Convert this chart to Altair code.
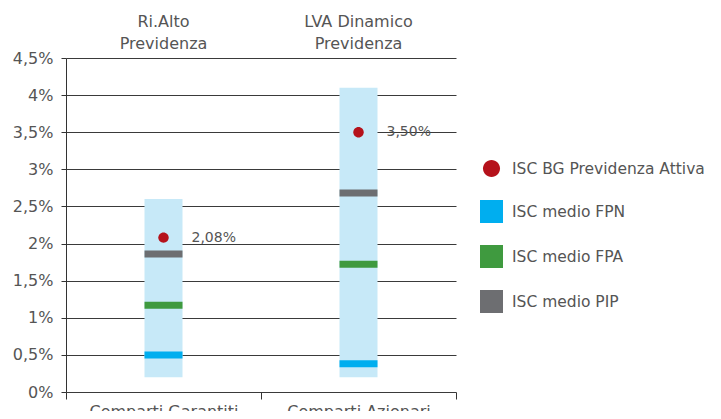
import altair as alt
import pandas as pd

# ---- data ----
categories = ["Comparti Garantiti", "Comparti Azionari"]
fund_names = ["Ri.Alto\nPrevidenza", "LVA Dinamico\nPrevidenza"]
range_min = [0.2, 0.2]
range_max = [2.6, 4.1]
isc_fpn = [0.50, 0.38]
isc_fpa = [1.17, 1.72]
isc_pip = [1.86, 2.68]
isc_bg = [2.08, 3.50]
bg_labels = ["2,08%", "3,50%"]

series = ["ISC BG Previdenza Attiva", "ISC medio FPN", "ISC medio FPA", "ISC medio PIP"]
series_colors = ["#b5121b", "#00aeef", "#3f9a3f", "#6d6e71"]
y_ticks = [0, 0.5, 1, 1.5, 2, 2.5, 3, 3.5, 4, 4.5]

FONT = "DejaVu Sans"
TXT = "#555555"

CIRCLE = "M-0.74,0A0.74,0.74 0 1,0 0.74,0A0.74,0.74 0 1,0 -0.74,0Z"
SQUARE = "M-1,-1H1V1H-1Z"
series_shapes = [CIRCLE, SQUARE, SQUARE, SQUARE]

range_df = pd.DataFrame({"cat": categories, "lo": range_min, "hi": range_max, "fund": fund_names})
tick_rows = []
for name, vals in [(series[1], isc_fpn), (series[2], isc_fpa), (series[3], isc_pip)]:
    for c, v in zip(categories, vals):
        tick_rows.append({"cat": c, "val": v, "serie": name})
tick_df = pd.DataFrame(tick_rows)
bg_df = pd.DataFrame({"cat": categories, "val": isc_bg, "serie": series[0], "label": bg_labels})

x_axis = alt.Axis(
    title=None, tickBand="extent", labelAngle=0, tickSize=7, labelPadding=4,
    domain=False, tickColor="#333333", labelFontSize=16, labelColor=TXT, labelFont=FONT,
    grid=False,
)
x_scale = alt.Scale(paddingInner=0, paddingOuter=0)
y_scale = alt.Scale(domain=[0, 4.5], nice=False)
y_axis = alt.Axis(
    title=None, values=y_ticks, tickSize=5, labelPadding=8, labelOverlap=False,
    labelExpr="replace(format(datum.value, '~g'), '.', ',') + '%'",
    grid=True, gridColor="#3a3a3a", gridWidth=1, domainColor="#333333", tickColor="#333333",
    labelFontSize=16, labelColor=TXT, labelFont=FONT,
)


def X():
    return alt.X("cat:N", sort=categories, scale=x_scale, axis=x_axis)


def Y(field):
    return alt.Y(field, scale=y_scale, axis=y_axis)


color_scale = alt.Scale(domain=series, range=series_colors)
shape_scale = alt.Scale(domain=series, range=series_shapes)
legend = alt.Legend(
    title=None, orient="none", legendX=414, legendY=99, padding=0,
    symbolSize=529, symbolStrokeWidth=0, symbolOpacity=1, rowPadding=22,
    labelFontSize=15.5, labelColor=TXT, labelFont=FONT, labelOffset=9, labelLimit=400,
)

bars = alt.Chart(range_df).mark_bar(color="#c7e9f8", width=38).encode(
    x=X(), y=Y("lo:Q"), y2="hi:Q",
)

titles = alt.Chart(range_df).mark_text(
    fontSize=16, font=FONT, color=TXT, lineBreak="\n", lineHeight=22, baseline="middle"
).encode(x=X(), y=alt.value(-36), text="fund:N")

ticks = alt.Chart(tick_df).mark_tick(thickness=7, size=38, opacity=1).encode(
    x=X(), y=Y("val:Q"),
    color=alt.Color("serie:N", scale=color_scale, legend=legend),
)

dots = alt.Chart(bg_df).mark_point(filled=True, size=200, opacity=1).encode(
    x=X(), y=Y("val:Q"),
    color=alt.Color("serie:N", scale=color_scale, legend=legend),
    shape=alt.Shape("serie:N", scale=shape_scale, legend=legend),
)

dot_labels = alt.Chart(bg_df).mark_text(
    align="left", baseline="middle", dx=28, fontSize=14, font=FONT, color=TXT
).encode(x=X(), y=Y("val:Q"), text="label:N")

chart = alt.layer(bars, ticks, dots, dot_labels, titles).properties(
    width=390, height=334,
    autosize=alt.AutoSizeParams(type="none"),
    padding={"left": 58, "top": 50, "right": 257, "bottom": 19},
    background="white",
).configure_view(stroke=None, strokeWidth=0)

chart.save("out.html", embed_options={"renderer": "svg", "actions": False})
